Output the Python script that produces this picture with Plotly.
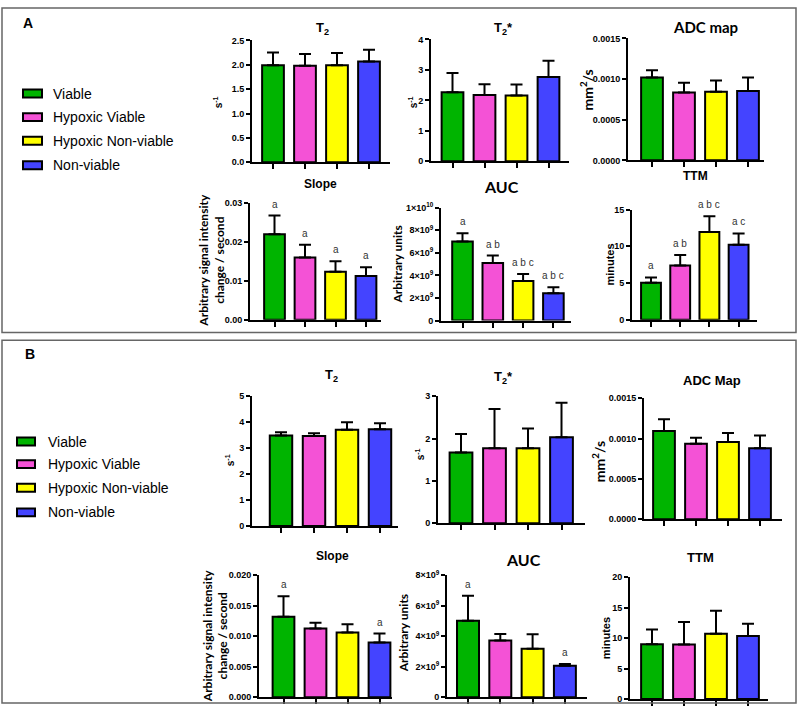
import plotly.graph_objects as go

W, H = 800, 710

groups = ["Viable", "Hypoxic Viable", "Hypoxic Non-viable", "Non-viable"]
colors = ["#00b400", "#f452d6", "#ffff00", "#4444ff"]

# Panel A
A_T2_mean = [1.99, 1.98, 1.99, 2.07]
A_T2_sd = [0.26, 0.24, 0.25, 0.24]
A_T2s_mean = [2.27, 2.18, 2.16, 2.77]
A_T2s_sd = [0.63, 0.35, 0.36, 0.53]
A_ADC_mean = [0.00102, 0.000835, 0.000843, 0.000855]
A_ADC_sd = [0.00009, 0.00012, 0.00014, 0.000165]
A_Slope_mean = [0.0219, 0.0159, 0.0123, 0.0112]
A_Slope_sd = [0.0048, 0.0033, 0.0027, 0.0022]
A_AUC_mean = [7.0e9, 5.09e9, 3.50e9, 2.43e9]
A_AUC_sd = [0.72e9, 0.66e9, 0.63e9, 0.52e9]
A_TTM_mean = [5.03, 7.39, 11.93, 10.19]
A_TTM_sd = [0.71, 1.42, 2.17, 1.56]
A_Slope_sig = ["a", "a", "a", "a"]
A_AUC_sig = ["a", "a b", "a b c", "a b c"]
A_TTM_sig = ["a", "a b", "a b c", "a c"]

# Panel B
B_T2_mean = [3.49, 3.47, 3.71, 3.73]
B_T2_sd = [0.13, 0.11, 0.29, 0.23]
B_T2s_mean = [1.67, 1.77, 1.77, 2.03]
B_T2s_sd = [0.44, 0.93, 0.47, 0.82]
B_ADC_mean = [0.001095, 0.000936, 0.000957, 0.00088]
B_ADC_sd = [0.000145, 0.000074, 0.000113, 0.000158]
B_Slope_mean = [0.01317, 0.01124, 0.01059, 0.00898]
B_Slope_sd = [0.00339, 0.00096, 0.00135, 0.00145]
B_AUC_mean = [5.01e9, 3.72e9, 3.18e9, 2.06e9]
B_AUC_sd = [1.64e9, 0.43e9, 0.95e9, 0.11e9]
B_TTM_mean = [9.01, 8.96, 10.72, 10.35]
B_TTM_sd = [2.40, 3.68, 3.78, 2.02]
B_Slope_sig = ["a", "", "", "a"]
B_AUC_sig = ["a", "", "", "a"]
B_TTM_sig = ["", "", "", ""]

# tick definitions
T2A_ticks = [0, 0.5, 1.0, 1.5, 2.0, 2.5]
T2A_text = ["0.0", "0.5", "1.0", "1.5", "2.0", "2.5"]
T2sA_ticks = [0, 1, 2, 3, 4]
ADC_ticks = [0, 0.0005, 0.0010, 0.0015]
ADC_text = ["0.0000", "0.0005", "0.0010", "0.0015"]
SlopeA_ticks = [0, 0.01, 0.02, 0.03]
SlopeA_text = ["0.00", "0.01", "0.02", "0.03"]
AUCA_ticks = [0, 2e9, 4e9, 6e9, 8e9, 1e10]
AUCA_text = ["0", "2×10<sup>9</sup>", "4×10<sup>9</sup>", "6×10<sup>9</sup>",
             "8×10<sup>9</sup>", "1×10<sup>10</sup>"]
TTMA_ticks = [0, 5, 10, 15]
T2B_ticks = [0, 1, 2, 3, 4, 5]
T2sB_ticks = [0, 1, 2, 3]
SlopeB_ticks = [0, 0.005, 0.010, 0.015, 0.020]
SlopeB_text = ["0.000", "0.005", "0.010", "0.015", "0.020"]
AUCB_ticks = [0, 2e9, 4e9, 6e9, 8e9]
AUCB_text = ["0", "2×10<sup>9</sup>", "4×10<sup>9</sup>", "6×10<sup>9</sup>", "8×10<sup>9</sup>"]
TTMB_ticks = [0, 5, 10, 15, 20]

# subplot specs: (mean, sd, sig, ticks, ticktext, ymax, left, c0, spacing, right, top, zero)
panels = [
    (A_T2_mean, A_T2_sd, None, T2A_ticks, T2A_text, 2.5, 252, 273, 32, 390, 34, 158),
    (A_T2s_mean, A_T2s_sd, None, T2sA_ticks, None, 4, 431, 452.5, 32, 569, 33, 157),
    (A_ADC_mean, A_ADC_sd, None, ADC_ticks, ADC_text, 0.0015, 628, 652, 32, 764, 32, 156),
    (A_Slope_mean, A_Slope_sd, A_Slope_sig, SlopeA_ticks, SlopeA_text, 0.03, 250, 274.5, 30.5, 381, 199, 318),
    (A_AUC_mean, A_AUC_sd, A_AUC_sig, AUCA_ticks, AUCA_text, 1e10, 441, 462.5, 30.3, 571, 204, 319),
    (A_TTM_mean, A_TTM_sd, A_TTM_sig, TTMA_ticks, None, 15, 632, 651, 29.2, 757, 206, 318),
    (B_T2_mean, B_T2_sd, None, T2B_ticks, None, 5, 252, 281, 33, 398, 396, 528),
    (B_T2s_mean, B_T2s_sd, None, T2sB_ticks, None, 3, 438, 461, 33.5, 585, 396, 525),
    (B_ADC_mean, B_ADC_sd, None, ADC_ticks, ADC_text, 0.0015, 644, 664, 32, 782, 398, 521),
    (B_Slope_mean, B_Slope_sd, B_Slope_sig, SlopeB_ticks, SlopeB_text, 0.02, 259, 283.5, 32, 392, 578, 702),
    (B_AUC_mean, B_AUC_sd, B_AUC_sig, AUCB_ticks, AUCB_text, 8e9, 447, 468, 32.3, 587, 578, 702),
    (B_TTM_mean, B_TTM_sd, B_TTM_sig, TTMB_ticks, None, 20, 630, 652, 32, 768, 580, 704),
]

fig = go.Figure()
layout = {}
annotations = []
shapes = []
tickfont = dict(family="Liberation Sans, Arial", size=9, color="black", weight="bold")

for i, (mean, sd, sig, ticks, ttext, ymax, left, c0, s, right, top, zero) in enumerate(panels):
    n = i + 1
    xa = "x" if n == 1 else f"x{n}"
    ya = "y" if n == 1 else f"y{n}"
    fig.add_trace(go.Bar(
        x=list(range(len(groups))), y=mean, xaxis=xa, yaxis=ya, width=0.68,
        marker=dict(color=colors, line=dict(color="black", width=2)),
        error_y=dict(type="data", symmetric=False, array=sd, arrayminus=[0] * len(sd),
                     thickness=2, width=6, color="black"),
        showlegend=False, hoverinfo="skip",
    ))
    xkey = "xaxis" if n == 1 else f"xaxis{n}"
    ykey = "yaxis" if n == 1 else f"yaxis{n}"
    layout[xkey] = dict(
        domain=[left / W, right / W], anchor=ya,
        range=[-(c0 - left) / s, (right - c0) / s],
        tickvals=list(range(len(groups))), showticklabels=False,
        ticks="outside", ticklen=5, tickwidth=2, tickcolor="black",
        showline=True, linewidth=2, linecolor="black",
        showgrid=False, zeroline=False, fixedrange=True,
    )
    ydict = dict(
        domain=[1 - zero / H, 1 - top / H], anchor=xa, range=[0, ymax],
        tickvals=ticks, ticks="outside", ticklen=4, tickwidth=2, tickcolor="black",
        showline=True, linewidth=2, linecolor="black", tickfont=tickfont,
        showgrid=False, zeroline=False, fixedrange=True,
    )
    if ttext is not None:
        ydict["ticktext"] = ttext
    layout[ykey] = ydict
    if sig is not None:
        for j, lab in enumerate(sig):
            if lab:
                annotations.append(dict(
                    x=j, y=mean[j] + sd[j], xref=xa, yref=ya, text=lab, showarrow=False,
                    yanchor="bottom", yshift=4,
                    font=dict(family="Liberation Sans, Arial", size=10, color="#333333"),
                ))


def txt(x, y, text, size, family="Liberation Sans, Arial", bold=True, angle=0, xanchor="center"):
    annotations.append(dict(
        x=x / W, y=1 - y / H, xref="paper", yref="paper", text=text, showarrow=False,
        xanchor=xanchor, yanchor="middle", textangle=angle,
        font=dict(family=family, size=size, color="black", weight="bold" if bold else "normal"),
    ))


CAL = "Lato, Liberation Sans"
# Panel A texts
txt(28, 16, "A", 14)
txt(322, 22, "T<sub>2</sub>", 13)
txt(503, 22, "T<sub>2</sub>*", 13)
txt(705, 20, "ADC map", 15, family=CAL)
txt(320, 180, "Slope", 12)
txt(502, 183, "AUC", 16, family=CAL)
txt(695, 172, "TTM", 12)
txt(218, 97, "s<sup>-1</sup>", 10, angle=-90)
txt(413, 97, "s<sup>-1</sup>", 10, angle=-90)
txt(587, 85, "mm<sup>2</sup>/s", 14, family=CAL, angle=-90)
txt(212, 258, "Arbitrary signal intensity<br>change / second", 12, family=CAL, angle=-90)
txt(398, 262, "Arbitrary units", 12, family=CAL, angle=-90)
txt(610, 262, "minutes", 11, angle=-90)

# Panel B texts
txt(30, 353, "B", 14)
txt(331, 375, "T<sub>2</sub>", 13)
txt(503, 377, "T<sub>2</sub>*", 13)
txt(712, 380, "ADC Map", 13)
txt(332, 558, "Slope", 12)
txt(523, 562, "AUC", 16, family=CAL)
txt(700, 560, "TTM", 13)
txt(230, 461, "s<sup>-1</sup>", 10, angle=-90)
txt(420, 455, "s<sup>-1</sup>", 10, angle=-90)
txt(598, 463, "mm<sup>2</sup>/s", 14, family=CAL, angle=-90)
txt(215, 640, "Arbitrary signal intensity<br>change / second", 12, family=CAL, angle=-90)
txt(403, 637, "Arbitrary units", 12, family=CAL, angle=-90)
txt(606, 642, "minutes", 11, angle=-90)

# Legends
legA_y = [88, 112, 136, 161]
legB_y = [442, 465, 489, 514]
for ys, bx0, bx1, tx in [(legA_y, 23, 42, 51), (legB_y, 17, 35, 46)]:
    for g, c, yy in zip(groups, colors, ys):
        shapes.append(dict(type="rect", xref="paper", yref="paper",
                           x0=bx0 / W, x1=bx1 / W, y0=1 - (yy + 4) / H, y1=1 - (yy - 4) / H,
                           fillcolor=c, line=dict(color="black", width=2)))
        txt(tx, yy, g, 14, bold=False, xanchor="left")

# Panel borders
for (x0, y0, x1, y1) in [(2, 1, 796, 331), (2, 339, 796, 708)]:
    shapes.append(dict(type="rect", xref="paper", yref="paper",
                       x0=x0 / W, x1=x1 / W, y0=1 - y1 / H, y1=1 - y0 / H,
                       line=dict(color="#666666", width=1.5), fillcolor="rgba(0,0,0,0)"))

fig.update_layout(
    width=W, height=H, margin=dict(l=0, r=0, t=0, b=0),
    paper_bgcolor="white", plot_bgcolor="white",
    annotations=annotations, shapes=shapes, bargap=0.3,
    **layout,
)

fig.write_html("out.html", config={"displayModeBar": False},
               post_script="document.body.style.margin='0px';document.body.style.overflow='hidden';")
